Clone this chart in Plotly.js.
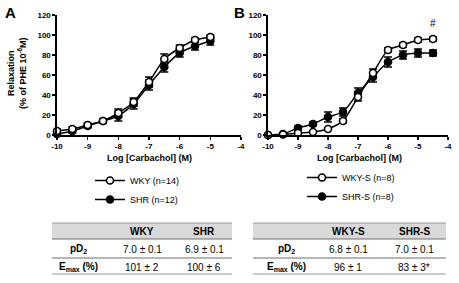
<!DOCTYPE html>
<html>
<head>
<meta charset="utf-8">
<script src="https://cdn.plot.ly/plotly-3.0.1.min.js"></script>
<style>html,body{margin:0;padding:0;background:#fff;}#chart{width:459px;height:283px;}</style>
</head>
<body>
<div id="chart"></div>
<script>
// ---- Data ----
const xA = [-10, -9.5, -9, -8.5, -8, -7.5, -7, -6.5, -6, -5.5, -5];
const wky = [4, 6, 10, 14, 22, 33, 53, 76, 87, 95, 98];
const wkyErr = [2, 2, 2, 2, 4, 4, 5, 5, 3, 2, 2];
const shr = [1, 4, 9, 14, 19, 31, 50, 68, 82, 89, 94];
const shrErr = [1, 2, 2, 2, 5, 5, 5, 5, 4, 4, 4];

const xB = [-10, -9.5, -9, -8.5, -8, -7.5, -7, -6.5, -6, -5.5, -5, -4.5];
const wkyS = [0, 0.5, 2, 3, 6, 14, 38, 62, 85, 90, 95, 96];
const wkySErr = [1, 1, 1, 1, 1, 2, 4, 4, 2, 2, 2, 2];
const shrS = [0, 1, 7, 11, 18, 23, 42, 58, 73, 80, 82, 82];
const shrSErr = [1, 1, 2, 2, 5, 4, 5, 5, 5, 4, 4, 3];

const namesA = ["WKY (n=14)", "SHR (n=12)"];
const namesB = ["WKY-S (n=8)", "SHR-S (n=8)"];

const xTickVals = [-10, -9, -8, -7, -6, -5, -4];
const xTickText = ["-10", "-9", "-8", "-7", "-6", "-5", "-4"];
const yTickVals = [0, 20, 40, 60, 80, 100, 120];
const yTickText = ["0", "20", "40", "60", "80", "100", "120"];

const tableHeadA = ["WKY", "SHR"];
const tableRowLabels = ["pD<sub>2</sub>", "E<sub>max</sub> (%)"];
const tableColA1 = ["7.0 ± 0.1", "101 ± 2"];
const tableColA2 = ["6.9 ± 0.1", "100 ± 6"];
const tableHeadB = ["WKY-S", "SHR-S"];
const tableColB1 = ["6.8 ± 0.1", "96 ± 1"];
const tableColB2 = ["7.0 ± 0.1", "83 ± 3*"];

// ---- Styles ----
const FONT = "Arial, 'Liberation Sans', sans-serif";
const W = 459, H = 283;
const px = v => v / W, py = v => 1 - v / H;
const bold = s => "<b>" + s + "</b>";

function series(x, y, err, name, open, xa, ya, legend) {
  return {
    type: "scatter", mode: "lines+markers", x: x, y: y, name: name,
    xaxis: xa, yaxis: ya, legend: legend, cliponaxis: false,
    line: {color: "#000", width: 1.5, shape: "spline", smoothing: 0.6},
    marker: {symbol: "circle", size: 7, color: open ? "#fff" : "#000",
             line: {color: "#000", width: 1.6}},
    error_y: {type: "data", array: err, visible: true, color: "#000", thickness: 1.7, width: 4}
  };
}

const data = [
  series(xA, shr, shrErr, namesA[1], false, "x", "y", "legend"),
  series(xA, wky, wkyErr, namesA[0], true, "x", "y", "legend"),
  series(xB, shrS, shrSErr, namesB[1], false, "x2", "y2", "legend2"),
  series(xB, wkyS, wkySErr, namesB[0], true, "x2", "y2", "legend2")
];

const xaxisBase = {
  range: [-10, -4], tickmode: "array", tickvals: xTickVals, ticktext: xTickText.map(bold),
  showline: true, linecolor: "#000", linewidth: 1.6, ticks: "outside", ticklen: 3,
  tickwidth: 1.5, tickcolor: "#000", showgrid: false, zeroline: false,
  tickfont: {family: FONT, size: 8, color: "#000"}, fixedrange: true
};
const yaxisBase = {
  range: [0, 120], tickmode: "array", tickvals: yTickVals, ticktext: yTickText.map(bold),
  showline: true, linecolor: "#000", linewidth: 1.6, ticks: "outside", ticklen: 3,
  tickwidth: 1.5, tickcolor: "#000", showgrid: false, zeroline: false,
  tickfont: {family: FONT, size: 8, color: "#000"}, fixedrange: true
};

const legendBase = {font: {family: FONT, size: 9, color: "#000"}, bgcolor: "rgba(0,0,0,0)",
  itemwidth: 30, tracegroupgap: 0, traceorder: "reversed", xanchor: "left", yanchor: "top"};

const hr = (x0, x1, y, c, w) => ({type: "line", xref: "paper", yref: "paper",
  x0: px(x0), x1: px(x1), y0: py(y), y1: py(y), line: {color: c, width: w}});
const rect = (x0, x1, y0, y1, c) => ({type: "rect", xref: "paper", yref: "paper", layer: "below",
  x0: px(x0), x1: px(x1), y0: py(y1), y1: py(y0), fillcolor: c, line: {width: 0}});
const txt = (s, x, y, size, extra) => Object.assign({text: s, xref: "paper", yref: "paper",
  x: px(x), y: py(y), showarrow: false, xanchor: "center", yanchor: "middle",
  font: {family: FONT, size: size, color: "#000"}}, extra || {});

// table builder: draws header band, rules and cell texts from the arrays
function tableParts(left, right, colX, head, c1, c2) {
  const shapes = [
    rect(left, right, 223, 239, "#d9d9d9"),
    hr(left, right, 223, "#9a9a9a", 1.2), hr(left, right, 239, "#6f6f6f", 1.2),
    hr(left, right, 258, "#6f6f6f", 1.2), hr(left, right, 274, "#9a9a9a", 1.2)
  ];
  const rowsY = [249, 267];
  const ann = [];
  head.forEach((h, i) => ann.push(txt(bold(h), colX[i + 1], 231, 10)));
  tableRowLabels.forEach((r, j) => ann.push(txt(bold(r), colX[0], rowsY[j], 10)));
  c1.forEach((v, j) => ann.push(txt(v, colX[1], rowsY[j], 10)));
  c2.forEach((v, j) => ann.push(txt(v, colX[2], rowsY[j], 10)));
  return {shapes, ann};
}
const tA = tableParts(52, 232, [78, 142, 204], tableHeadA, tableColA1, tableColA2);
const tB = tableParts(253, 446, [286, 348, 414], tableHeadB, tableColB1, tableColB2);

const layout = {
  width: W, height: H,
  margin: {l: 0, r: 0, t: 0, b: 0},
  paper_bgcolor: "#fff", plot_bgcolor: "#fff",
  font: {family: FONT, color: "#000"},
  showlegend: true,
  xaxis: Object.assign({}, xaxisBase, {domain: [px(57), px(241)], anchor: "y"}),
  yaxis: Object.assign({}, yaxisBase, {domain: [py(135), py(15)], anchor: "x"}),
  xaxis2: Object.assign({}, xaxisBase, {domain: [px(268), px(448)], anchor: "y2"}),
  yaxis2: Object.assign({}, yaxisBase, {domain: [py(135), py(15)], anchor: "x2"}),
  legend: Object.assign({}, legendBase, {x: px(90), y: py(166)}),
  legend2: Object.assign({}, legendBase, {x: px(302), y: py(163)}),
  annotations: [
    txt("<b>A</b>", 3, 2, 15, {xanchor: "left", yanchor: "top"}),
    txt("<b>B</b>", 232, 2, 15, {xanchor: "left", yanchor: "top"}),
    txt("<b>Relaxation<br>(% of PHE 10<sup>-6</sup>M)</b>", 17, 73, 9, {textangle: -90}),
    txt("<b>Log [Carbachol] (M)</b>", 149, 158, 9),
    txt("<b>Log [Carbachol] (M)</b>", 359, 158, 9),
    {text: "#", xref: "x2", yref: "y2", x: -4.5, y: 112, showarrow: false,
     font: {family: FONT, size: 10, color: "#000"}}
  ].concat(tA.ann, tB.ann),
  shapes: tA.shapes.concat(tB.shapes)
};

Plotly.newPlot("chart", data, layout, {staticPlot: true, displayModeBar: false});
</script>
</body>
</html>
